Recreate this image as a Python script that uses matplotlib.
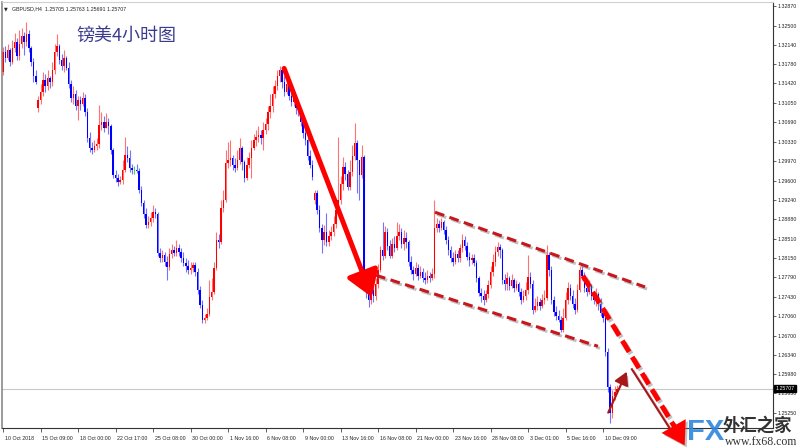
import matplotlib
matplotlib.use("Agg")
import matplotlib.pyplot as plt
import matplotlib.transforms as mtransforms
import matplotlib.patheffects as pe
from matplotlib.patches import FancyArrowPatch
import numpy as np

# ---------------- data (GBPUSD H4) ----------------
closes = [
    1.3201, 1.3190, 1.3205, 1.3182, 1.3208, 1.3220, 1.3193, 1.3216, 1.3231, 1.3220,
    1.3235, 1.3208, 1.3182, 1.3156, 1.3145, 1.3111, 1.3126, 1.3148, 1.3137, 1.3152,
    1.3145, 1.3167, 1.3201, 1.3212, 1.3186, 1.3175, 1.3190, 1.3171, 1.3141, 1.3115,
    1.3122, 1.3100, 1.3111, 1.3103, 1.3115, 1.3089, 1.3040, 1.3021, 1.3017, 1.3025,
    1.3029, 1.3064, 1.3070, 1.3059, 1.3070, 1.3062, 1.3017, 1.2971, 1.2965, 1.2958,
    1.2961, 1.2980, 1.3008, 1.3002, 1.2984, 1.2980, 1.2980, 1.2978, 1.2943, 1.2918,
    1.2898, 1.2877, 1.2883, 1.2890, 1.2901, 1.2898, 1.2825, 1.2815, 1.2821, 1.2808,
    1.2798, 1.2823, 1.2830, 1.2825, 1.2834, 1.2826, 1.2815, 1.2806, 1.2800, 1.2793,
    1.2797, 1.2802, 1.2789, 1.2755, 1.2727, 1.2699, 1.2703, 1.2710, 1.2742, 1.2752,
    1.2797, 1.2849, 1.2845, 1.2909, 1.2924, 1.2993, 1.2999, 1.3002, 1.2989, 1.2984,
    1.2999, 1.3021, 1.2995, 1.2965, 1.2989, 1.3002, 1.3021, 1.3036, 1.3042, 1.3046,
    1.3040, 1.3055, 1.3066, 1.3089, 1.3100, 1.3122, 1.3137, 1.3156, 1.3167, 1.3145,
    1.3126, 1.3141, 1.3118, 1.3107, 1.3115, 1.3096, 1.3089, 1.3070, 1.3049, 1.3036,
    1.3006, 1.2989, 1.2967, 1.2937, 1.2905, 1.2871, 1.2849, 1.2864, 1.2845, 1.2856,
    1.2864, 1.2879, 1.2905, 1.2924, 1.2954, 1.2986, 1.2972, 1.2948, 1.2976, 1.3006,
    1.3031, 1.2999, 1.2971, 1.3004, 1.2774, 1.2752, 1.2737, 1.2755, 1.2744, 1.2767,
    1.2793, 1.2830, 1.2819, 1.2864, 1.2838, 1.2819, 1.2841, 1.2834, 1.2856, 1.2864,
    1.2841, 1.2853, 1.2845, 1.2808, 1.2793, 1.2785, 1.2797, 1.2782, 1.2789, 1.2778,
    1.2774, 1.2782, 1.2778, 1.2785, 1.2871, 1.2879, 1.2871, 1.2883, 1.2868, 1.2849,
    1.2830, 1.2815, 1.2808, 1.2823, 1.2815, 1.2834, 1.2849, 1.2838, 1.2817, 1.2812,
    1.2815, 1.2806, 1.2778, 1.2750, 1.2744, 1.2737, 1.2748, 1.2765, 1.2789, 1.2808,
    1.2826, 1.2836, 1.2830, 1.2774, 1.2767, 1.2778, 1.2763, 1.2774, 1.2759, 1.2767,
    1.2752, 1.2737, 1.2744, 1.2755, 1.2780, 1.2767, 1.2718, 1.2725, 1.2733, 1.2725,
    1.2737, 1.2740, 1.2821, 1.2793, 1.2737, 1.2714, 1.2707, 1.2699, 1.2680, 1.2703,
    1.2737, 1.2759, 1.2744, 1.2729, 1.2718, 1.2755, 1.2793, 1.2782, 1.2759, 1.2752,
    1.2763, 1.2744, 1.2737, 1.2748, 1.2729, 1.2712, 1.2703, 1.2639, 1.2574, 1.2525,
    1.2557, 1.2564, 1.25705, 1.25707,
]
highs = [
    1.3210, 1.3212, 1.3216, 1.3208, 1.3223, 1.3236, 1.3227, 1.3242, 1.3246, 1.3238,
    1.3257, 1.3242, 1.3212, 1.3190, 1.3167, 1.3118, 1.3141, 1.3163, 1.3160, 1.3167,
    1.3156, 1.3182, 1.3216, 1.3235, 1.3216, 1.3197, 1.3205, 1.3193, 1.3182, 1.3148,
    1.3137, 1.3130, 1.3118, 1.3118, 1.3126, 1.3122, 1.3096, 1.3051, 1.3032, 1.3036,
    1.3040, 1.3102, 1.3089, 1.3081, 1.3087, 1.3077, 1.3066, 1.3021, 1.2980, 1.2972,
    1.2969, 1.2999, 1.3042, 1.3025, 1.3017, 1.2991, 1.2987, 1.2991, 1.2984, 1.2950,
    1.2924, 1.2909, 1.2894, 1.2901, 1.2914, 1.2909, 1.2901, 1.2834, 1.2830, 1.2826,
    1.2819, 1.2834, 1.2841, 1.2838, 1.2849, 1.2841, 1.2834, 1.2826, 1.2815, 1.2812,
    1.2808, 1.2808, 1.2808, 1.2797, 1.2763, 1.2737, 1.2710, 1.2722, 1.2774, 1.2778,
    1.2808, 1.2864, 1.2860, 1.2924, 1.2943, 1.3017, 1.3032, 1.3036, 1.3008, 1.3002,
    1.3017, 1.3040, 1.3025, 1.2999, 1.3004, 1.3014, 1.3036, 1.3047, 1.3055, 1.3062,
    1.3055, 1.3070, 1.3077, 1.3100, 1.3122, 1.3137, 1.3148, 1.3167, 1.3175, 1.3171,
    1.3156, 1.3152, 1.3145, 1.3130, 1.3126, 1.3118, 1.3103, 1.3096, 1.3077, 1.3062,
    1.3051, 1.3017, 1.2999, 1.2943, 1.2943, 1.2914, 1.2879, 1.2877, 1.2900, 1.2868,
    1.2875, 1.2894, 1.2916, 1.3042, 1.2969, 1.3004, 1.2995, 1.2980, 1.2999, 1.3027,
    1.3068, 1.3036, 1.2999, 1.3027, 1.3008, 1.2782, 1.2759, 1.2770, 1.2763, 1.2778,
    1.2804, 1.2838, 1.2883, 1.2875, 1.2871, 1.2849, 1.2853, 1.2856, 1.2883, 1.2879,
    1.2871, 1.2868, 1.2864, 1.2849, 1.2819, 1.2800, 1.2808, 1.2804, 1.2800, 1.2797,
    1.2789, 1.2793, 1.2789, 1.2797, 1.2924, 1.2890, 1.2886, 1.2890, 1.2886, 1.2875,
    1.2856, 1.2838, 1.2826, 1.2830, 1.2830, 1.2841, 1.2860, 1.2856, 1.2845, 1.2826,
    1.2823, 1.2823, 1.2812, 1.2782, 1.2759, 1.2755, 1.2755, 1.2774, 1.2800, 1.2823,
    1.2838, 1.2845, 1.2841, 1.2834, 1.2785, 1.2789, 1.2782, 1.2785, 1.2778, 1.2774,
    1.2770, 1.2759, 1.2755, 1.2770, 1.2821, 1.2789, 1.2774, 1.2740, 1.2744, 1.2740,
    1.2748, 1.2755, 1.2840, 1.2826, 1.2800, 1.2744, 1.2725, 1.2718, 1.2707, 1.2722,
    1.2752, 1.2770, 1.2767, 1.2755, 1.2740, 1.2767, 1.2800, 1.2800, 1.2789, 1.2767,
    1.2774, 1.2767, 1.2752, 1.2759, 1.2752, 1.2740, 1.2722, 1.2710, 1.2647, 1.2579,
    1.2568, 1.2576, 1.2578, 1.25763,
]
lows = [
    1.3158, 1.3182, 1.3186, 1.3175, 1.3178, 1.3201, 1.3186, 1.3186, 1.3208, 1.3195,
    1.3212, 1.3201, 1.3175, 1.3145, 1.3141, 1.3089, 1.3103, 1.3118, 1.3126, 1.3130,
    1.3133, 1.3137, 1.3160, 1.3193, 1.3178, 1.3167, 1.3163, 1.3167, 1.3133, 1.3107,
    1.3103, 1.3092, 1.3074, 1.3092, 1.3100, 1.3081, 1.3032, 1.3014, 1.3010, 1.3014,
    1.3017, 1.3021, 1.3055, 1.3051, 1.3059, 1.3047, 1.3010, 1.2965, 1.2958, 1.2950,
    1.2954, 1.2954, 1.2976, 1.2995, 1.2976, 1.2972, 1.2972, 1.2974, 1.2937, 1.2913,
    1.2890, 1.2871, 1.2871, 1.2875, 1.2883, 1.2890, 1.2819, 1.2808, 1.2808, 1.2800,
    1.2774, 1.2793, 1.2815, 1.2819, 1.2819, 1.2819, 1.2808, 1.2800, 1.2789, 1.2785,
    1.2785, 1.2789, 1.2782, 1.2748, 1.2722, 1.2694, 1.2694, 1.2699, 1.2707, 1.2737,
    1.2748, 1.2793, 1.2834, 1.2841, 1.2901, 1.2920, 1.2984, 1.2987, 1.2980, 1.2976,
    1.2980, 1.2991, 1.2980, 1.2958, 1.2961, 1.2984, 1.2965, 1.3017, 1.3025, 1.3032,
    1.3029, 1.3017, 1.3047, 1.3055, 1.3077, 1.3089, 1.3115, 1.3130, 1.3145, 1.3133,
    1.3118, 1.3122, 1.3111, 1.3100, 1.3100, 1.3085, 1.3081, 1.3062, 1.3040, 1.3027,
    1.2999, 1.2984, 1.2961, 1.2916, 1.2898, 1.2864, 1.2825, 1.2840, 1.2838, 1.2838,
    1.2849, 1.2856, 1.2871, 1.2898, 1.2916, 1.2943, 1.2961, 1.2943, 1.2943, 1.2969,
    1.2999, 1.2937, 1.2924, 1.2965, 1.2767, 1.2740, 1.2724, 1.2729, 1.2733, 1.2737,
    1.2759, 1.2789, 1.2812, 1.2815, 1.2830, 1.2815, 1.2815, 1.2826, 1.2830, 1.2849,
    1.2834, 1.2830, 1.2834, 1.2800, 1.2785, 1.2774, 1.2782, 1.2774, 1.2778, 1.2770,
    1.2767, 1.2768, 1.2770, 1.2774, 1.2778, 1.2864, 1.2864, 1.2868, 1.2860, 1.2841,
    1.2821, 1.2808, 1.2800, 1.2804, 1.2808, 1.2808, 1.2826, 1.2830, 1.2812, 1.2800,
    1.2804, 1.2800, 1.2770, 1.2744, 1.2733, 1.2727, 1.2733, 1.2740, 1.2759, 1.2782,
    1.2800, 1.2819, 1.2815, 1.2767, 1.2755, 1.2755, 1.2755, 1.2759, 1.2752, 1.2755,
    1.2744, 1.2729, 1.2733, 1.2737, 1.2748, 1.2759, 1.2710, 1.2714, 1.2718, 1.2718,
    1.2722, 1.2729, 1.2737, 1.2782, 1.2729, 1.2707, 1.2699, 1.2695, 1.2677, 1.2677,
    1.2699, 1.2729, 1.2737, 1.2722, 1.2710, 1.2714, 1.2752, 1.2774, 1.2752, 1.2744,
    1.2748, 1.2737, 1.2729, 1.2725, 1.2718, 1.2707, 1.2695, 1.2632, 1.2564, 1.2506,
    1.2516, 1.2549, 1.2564, 1.25691,
]
first_open = 1.3163
gap_opens = {15: 1.3096, 133: 1.2924}   # weekend gaps

tick_labels = ["10 Oct 2018", "15 Oct 09:00", "18 Oct 00:00", "22 Oct 17:00",
               "25 Oct 08:00", "30 Oct 00:00", "1 Nov 16:00", "6 Nov 08:00",
               "9 Nov 00:00", "13 Nov 16:00", "16 Nov 08:00", "21 Nov 00:00",
               "23 Nov 16:00", "28 Nov 08:00", "3 Dec 01:00", "5 Dec 16:00",
               "10 Dec 09:00"]
bars_per_label = 16
price_ticks = [1.32870, 1.32500, 1.32140, 1.31780, 1.31420, 1.31050, 1.30690,
               1.30330, 1.29970, 1.29600, 1.29240, 1.28880, 1.28510, 1.28150,
               1.27790, 1.27430, 1.27060, 1.26700, 1.26340, 1.25980, 1.25630,
               1.25250]
symbol = "GBPUSD,H4"
title_cn = "镑美4小时图"

# annotation drawing positions (bar index, price)
main_arrow = [(119.5, 1.3175), (157.8, 1.2737)]
channel_upper = [(184.3, 1.2901), (273.9, 1.2761)]
channel_lower = [(159.1, 1.2783), (253.8, 1.2650)]
proj_dash = [(247.4, 1.2782), (287.5, 1.2492)]
proj_head = [(286.2, 1.2500), (291.4, 1.2460)]
thin_up = [(257.7, 1.2521), (266.6, 1.2607)]
thin_down = [(268.3, 1.2607), (287.1, 1.2478)]

# ---------------- build ----------------
n = len(closes)
opens = [first_open] + closes[:-1]
for k, v in gap_opens.items():
    opens[k] = v
opens[-1] = 1.25705
o = np.array(opens); c = np.array(closes); h = np.array(highs); l = np.array(lows)
idx = np.arange(n)

W, H = 800, 448
fig = plt.figure(figsize=(W / 100, H / 100), dpi=100)
fig.patch.set_facecolor("white")
ax = fig.add_axes([2 / W, 20 / H, 771 / W, 426 / H])
ax.set_facecolor("white")

ymin, ymax = 1.24970, 1.32945
ax.set_ylim(ymin, ymax)
ax.set_xlim(-0.43, 328.5)

RED, BLUE, GREEN = "#FF0000", "#0000FF", "#00C000"
up = c > o
dn = c < o
eq = c == o

# wicks
ax.vlines(idx[up], l[up], h[up], color=RED, lw=0.8, alpha=0.55)
ax.vlines(idx[dn], l[dn], h[dn], color=BLUE, lw=0.8, alpha=0.55)
ax.vlines(idx[eq], l[eq], h[eq], color=GREEN, lw=0.8, alpha=0.7)
# bodies
minh = 0.00006
bh = np.maximum(np.abs(c - o), minh)
bb = np.minimum(o, c)
ax.bar(idx[up], bh[up], bottom=bb[up], width=0.62, color=RED, lw=0)
ax.bar(idx[dn], bh[dn], bottom=bb[dn], width=0.62, color=BLUE, lw=0)
ax.bar(idx[eq], np.full(eq.sum(), minh), bottom=bb[eq], width=0.62, color=GREEN, lw=0)

# current price line
last = closes[-1]
ax.axhline(last, color="#C8C8C8", lw=0.8, zorder=0)

# axes styling
ax.yaxis.tick_right()
ax.set_yticks(price_ticks)
ax.set_yticklabels([f"{v:.5f}" for v in price_ticks], family="Liberation Sans",
                   fontsize=3.8, color="#222222")
ax.tick_params(axis="y", direction="out", length=2.2, width=0.5, pad=1.2, colors="#222222")
ax.set_xticks(np.arange(len(tick_labels)) * bars_per_label)
ax.set_xticklabels(tick_labels, family="Liberation Sans", fontsize=3.8, color="#222222")
ax.tick_params(axis="x", direction="out", length=3, width=0.5, pad=2.5, colors="#222222")
off = mtransforms.ScaledTranslation(1.2 / 72, 0, fig.dpi_scale_trans)
for lab in ax.get_xticklabels():
    lab.set_ha("left")
    lab.set_transform(lab.get_transform() + off)
for s in ["right", "bottom"]:
    ax.spines[s].set_color("#333333"); ax.spines[s].set_linewidth(0.8)
ax.spines["left"].set_color("#8a8a8a"); ax.spines["left"].set_linewidth(1.2)
ax.spines["top"].set_color("#d0d0d0"); ax.spines["top"].set_linewidth(0.8)

# current price label box
ax.text(1.003, last, f"{last:.5f}", transform=ax.get_yaxis_transform(),
        fontsize=3.8, family="Liberation Sans", color="white", va="center", ha="left",
        bbox=dict(boxstyle="square,pad=0.25", fc="black", ec="black"), clip_on=False, zorder=10)

# header
o_l, h_l, l_l, c_l = opens[-1], highs[-1], lows[-1], closes[-1]
fig.text(4 / W, 1 - 9 / H, "\u25BC", fontsize=3.5, color="#222222", va="center", family="DejaVu Sans")
fig.text(12 / W, 1 - 9 / H, f"{symbol}  {o_l:.5f} {h_l:.5f} {l_l:.5f} {c_l:.5f}",
         fontsize=3.8, color="#222222", va="center", family="Liberation Sans")

# Chinese title
ax.text(74 / 771, 1 - 34 / 426, title_cn, transform=ax.transAxes, fontsize=13,
        color="#3C3C8E", va="center", ha="left", family=["Noto Sans CJK SC", "DejaVu Sans"])

# --------- drawings ---------
shadow = [pe.SimpleLineShadow(offset=(1.5, -1.5), shadow_color="#777777", alpha=0.45), pe.Normal()]
pshadow = [pe.withSimplePatchShadow(offset=(1.5, -1.5), shadow_rgbFace="#777777", alpha=0.45)]

arr = FancyArrowPatch(main_arrow[0], main_arrow[1], arrowstyle="-|>,head_length=0.7,head_width=0.45",
                      mutation_scale=22, color=RED, lw=3.6, zorder=8, path_effects=pshadow)
ax.add_patch(arr)

for seg in (channel_upper, channel_lower):
    (x0, y0), (x1, y1) = seg
    ax.plot([x0, x1], [y0, y1], color="#C8161D", lw=2.2, dashes=(3.2, 1.8),
            solid_capstyle="butt", dash_capstyle="butt", zorder=7, path_effects=shadow)

(x0, y0), (x1, y1) = proj_dash
ax.plot([x0, x1], [y0, y1], color=RED, lw=3.6, dashes=(2.6, 1.2), zorder=8,
        clip_on=False, path_effects=shadow)
head = FancyArrowPatch(proj_head[0], proj_head[1], arrowstyle="-|>,head_length=0.8,head_width=0.5",
                       mutation_scale=20, color=RED, lw=0, zorder=9, clip_on=False, path_effects=pshadow)
ax.add_patch(head)

a1 = FancyArrowPatch(thin_up[0], thin_up[1], arrowstyle="-|>,head_length=0.7,head_width=0.4",
                     mutation_scale=11, color="#A81818", lw=1.5, zorder=8, clip_on=False,
                     path_effects=pshadow)
ax.add_patch(a1)
(x0, y0), (x1, y1) = thin_down
ax.plot([x0, x1], [y0, y1], color="#A81818", lw=1.5, zorder=8, clip_on=False, path_effects=shadow)

# --------- logo ---------
fig.text(687 / W, 1 - 432 / H, "FX", fontsize=21, fontweight="bold", color="#2E86DE",
         va="center", ha="left", family="Liberation Sans", alpha=0.9, zorder=20)
fig.text(723 / W, 1 - 426 / H, "外汇之家", fontsize=12.5, fontweight="bold", color="#333333",
         va="center", ha="left", family=["Noto Sans CJK SC", "DejaVu Sans"], zorder=20)
fig.text(725 / W, 1 - 442 / H, "www.fx68.com", fontsize=8.5, color="#333333",
         va="center", ha="left", family="Liberation Serif", zorder=20)

fig.savefig("out.png", dpi=100, facecolor="white")
